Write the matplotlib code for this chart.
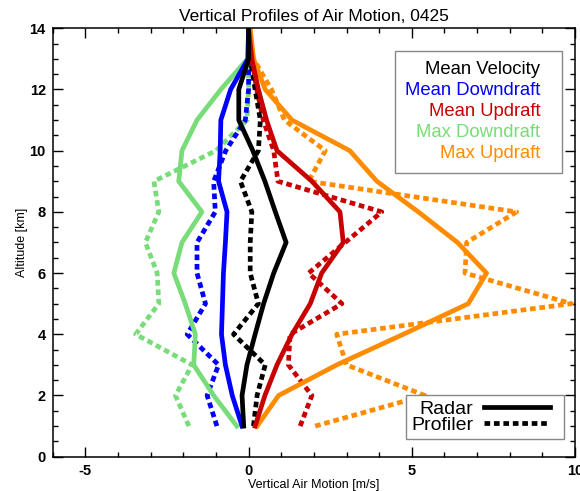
import numpy as np
import matplotlib
matplotlib.use("Agg")
import matplotlib.pyplot as plt
from matplotlib.lines import Line2D
from matplotlib.legend_handler import HandlerLine2D
from matplotlib.ticker import MultipleLocator

plt.rcParams['font.family'] = ['Liberation Sans', 'DejaVu Sans']
plt.rcParams['axes.unicode_minus'] = False

# altitude levels (km)
alt = [1, 2, 3, 4, 5, 6, 7, 8, 9, 10, 11, 12, 13, 14]

# radar profiles (m/s)
radar_mean = [-0.15, -0.2, -0.05, 0.2, 0.46, 0.77, 1.15, 0.82, 0.5, 0.13, -0.3, -0.3, 0.0, 0.0]
radar_mean_down = [-0.2, -0.5, -0.71, -0.83, -0.8, -0.77, -0.71, -0.66, -0.92, -0.87, -0.85, -0.55, -0.02, 0.0]
radar_mean_up = [0.2, 0.5, 0.87, 1.33, 1.89, 2.24, 2.9, 2.8, 1.94, 0.87, 0.55, 0.3, 0.1, 0.0]
radar_max_down = [-0.36, -1.07, -1.68, -1.63, -1.94, -2.29, -2.04, -1.43, -2.14, -2.04, -1.58, -0.85, -0.03, 0.0]
radar_max_up = [0.26, 0.92, 2.7, 4.74, 6.73, 7.29, 6.4, 5.2, 3.93, 3.1, 1.33, 0.51, 0.15, 0.05]

# profiler profiles (m/s)
prof_mean = [0.15, 0.26, 0.51, -0.46, 0.3, 0.05, 0.05, 0.1, -0.25, 0.3, 0.36, 0.2, 0.05, 0.0]
prof_mean_down = [-0.97, -1.27, -0.92, -1.88, -1.32, -1.58, -1.58, -1.02, -1.07, -0.7, -0.1, 0.0, 0.0, 0.0]
prof_mean_up = [1.58, 1.94, 1.22, 1.27, 2.86, 1.84, 2.96, 4.08, 0.9, 0.77, 0.45, 0.25, 0.1, 0.0]
prof_max_down = [-1.83, -2.24, -1.73, -3.46, -2.75, -2.8, -3.16, -2.75, -2.9, -1.0, -0.05, 0.0, 0.0, 0.0]
prof_max_up = [2.04, 5.4, 3.0, 2.7, 9.89, 6.63, 6.68, 8.21, 1.84, 2.35, 1.1, 0.7, 0.15, 0.0]

names = ['Mean Velocity', 'Mean Downdraft', 'Mean Updraft', 'Max Downdraft', 'Max Updraft']
colors = ['black', '#0000ff', '#c80000', '#78dc78', '#ff8c00']

radar = [radar_mean, radar_mean_down, radar_mean_up, radar_max_down, radar_max_up]
prof = [prof_mean, prof_mean_down, prof_mean_up, prof_max_down, prof_max_up]

fig = plt.figure(figsize=(5.8, 4.91), dpi=100)
ax = fig.add_axes([0.0909, 0.0699, 0.9005, 0.8725])

lw = 3.4
dots = (0, (1.2, 0.8))
order = [3, 4, 1, 2, 0]
for i in order:
    ax.plot(prof[i], alt, color=colors[i], lw=lw, linestyle=dots, dash_capstyle='butt')
for i in order:
    ax.plot(radar[i], alt, color=colors[i], lw=lw)

ax.set_xlim(-6, 10)
ax.set_ylim(0, 14)
ax.xaxis.set_major_locator(MultipleLocator(5))
ax.xaxis.set_minor_locator(MultipleLocator(1))
ax.yaxis.set_major_locator(MultipleLocator(2))
ax.yaxis.set_minor_locator(MultipleLocator(0.5))
ax.tick_params(which='both', direction='in', top=True, right=True, width=1)
ax.tick_params(which='major', length=7, labelsize=10.5, pad=5)
ax.tick_params(which='minor', length=3.5)
for lab in ax.get_xticklabels() + ax.get_yticklabels():
    lab.set_fontweight('bold')
for s in ax.spines.values():
    s.set_linewidth(1.1)

ax.set_title('Vertical Profiles of Air Motion, 0425', fontsize=12.5, pad=5)
ax.set_xlabel('Vertical Air Motion [m/s]', fontsize=9, labelpad=1)
ax.set_ylabel('Altitude [km]', fontsize=9, labelpad=1)

# colour key (text only, blank handle on the right for padding)
blank = [Line2D([], [], lw=0) for _ in names]
leg1 = ax.legend(blank, names, loc='upper right', bbox_to_anchor=(0.976, 0.947),
                 borderaxespad=0, markerfirst=False, handlelength=0.65, handletextpad=0,
                 fontsize=13.3, labelspacing=0.22, alignment='right', fancybox=False,
                 framealpha=1, edgecolor='#888888', borderpad=0.55)
for txt, c in zip(leg1.get_texts(), colors):
    txt.set_color(c)
leg1.get_frame().set_linewidth(1)
ax.add_artist(leg1)

# line style key
h = [Line2D([], [], color='black', lw=lw),
     Line2D([], [], color='black', lw=lw, linestyle=dots, dash_capstyle='butt')]
hm = {hh: HandlerLine2D(marker_pad=0.46, numpoints=2) for hh in h}
leg2 = ax.legend(h, ['Radar', 'Profiler'], loc='lower right', bbox_to_anchor=(0.979, 0.041),
                 borderaxespad=0, markerfirst=False, fontsize=14, handlelength=4.33,
                 labelspacing=-0.05, handletextpad=0.1, fancybox=False, framealpha=1,
                 edgecolor='#888888', borderpad=0.25, alignment='right', handler_map=hm)
leg2.get_frame().set_linewidth(1)

fig.savefig('out.png', dpi=100)
